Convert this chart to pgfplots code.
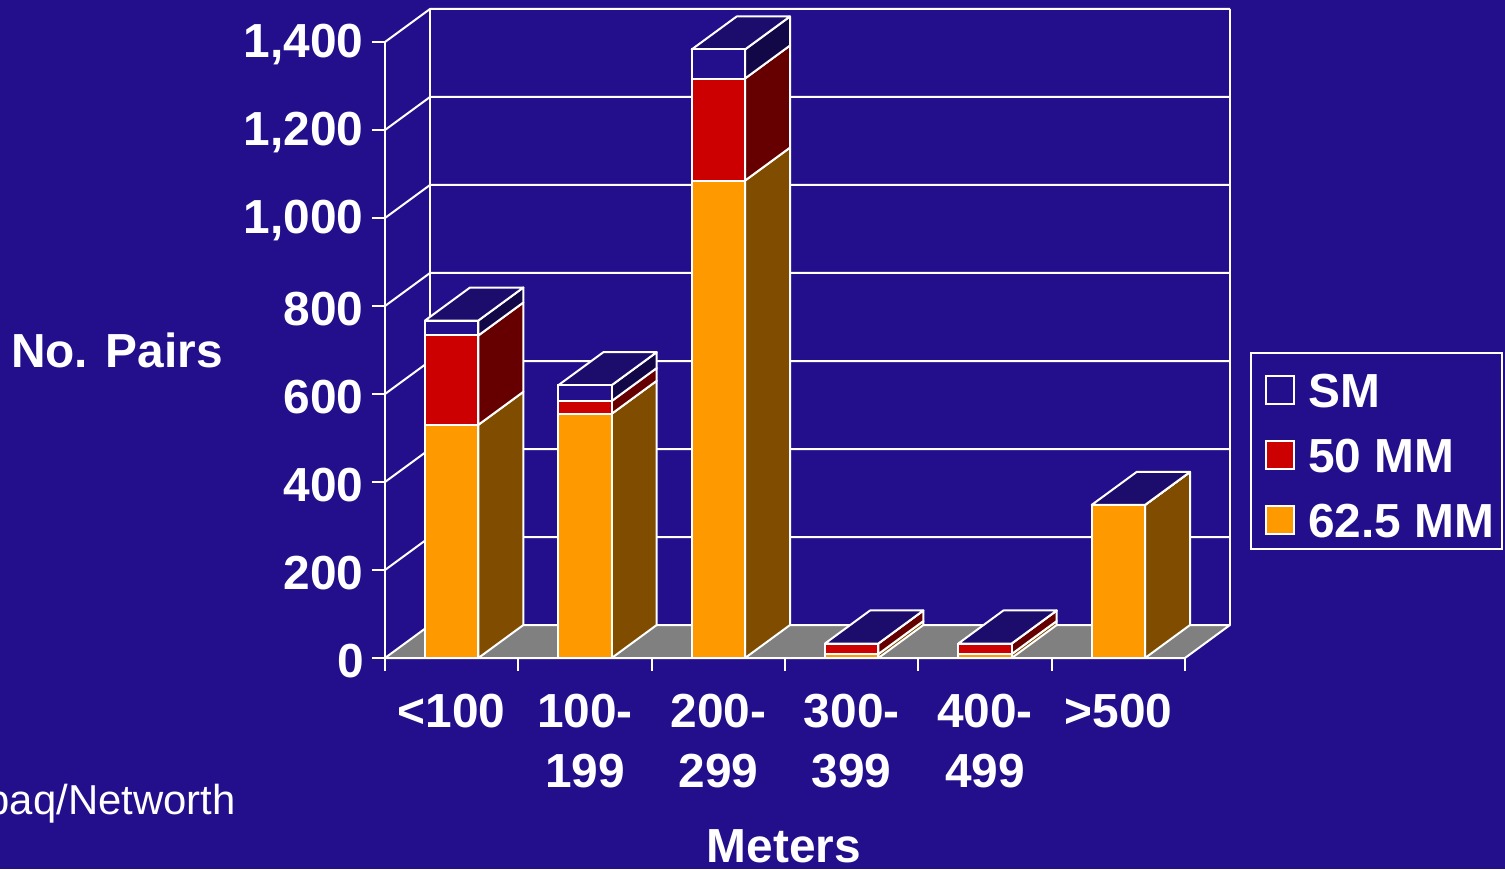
\documentclass[border=0pt]{standalone}
\usepackage{fontspec}
\setmainfont{Liberation Sans}
\usepackage{pgfplots}
\pgfplotsset{compat=1.18}
\usepackage{pgfplotstable}
\usetikzlibrary{backgrounds}

\definecolor{bg}{RGB}{35,15,140}
\definecolor{smtop}{RGB}{28,12,108}
\definecolor{smside}{RGB}{18,8,72}
\definecolor{orangef}{RGB}{255,153,0}
\definecolor{orangeside}{RGB}{128,77,0}
\definecolor{redf}{RGB}{204,0,0}
\definecolor{redside}{RGB}{102,0,0}
\definecolor{floorc}{RGB}{128,128,128}

\pgfplotstableread{
x orange red sm
0 530 203 34
1 555 29 36
2 1085 232 66
3 9 24 0
4 9 24 0
5 348 0 0
}\datatable

\def\DX{0.3375}
\def\DY{75}
% side and top faces of one column: #1 = x, #2 = 62.5 MM, #3 = 50 MM, #4 = SM
\newcommand{\colsides}[4]{%
  \pgfmathsetmacro\xa{#1+0.2}%
  \pgfmathsetmacro\xb{#1+0.2+\DX}%
  \pgfmathsetmacro\xc{#1-0.2}%
  \pgfmathsetmacro\xd{#1-0.2+\DX}%
  \pgfmathsetmacro\ya{#2}%
  \pgfmathsetmacro\yb{#2+#3}%
  \pgfmathsetmacro\yc{#2+#3+#4}%
  \pgfmathsetmacro\yoa{\DY}%
  \pgfmathsetmacro\yob{#2+\DY}%
  \pgfmathsetmacro\yoc{#2+#3+\DY}%
  \pgfmathsetmacro\yod{#2+#3+#4+\DY}%
  \edef\tmp{%
  \noexpand\addplot[fill=orangeside,draw=white,line width=1bp,line join=round,forget plot] coordinates {(\xa,0) (\xb,\yoa) (\xb,\yob) (\xa,\ya)} -- cycle;
  \noexpand\addplot[fill=redside,draw=white,line width=1bp,line join=round,forget plot] coordinates {(\xa,\ya) (\xb,\yob) (\xb,\yoc) (\xa,\yb)} -- cycle;
  \noexpand\addplot[fill=smside,draw=white,line width=1bp,line join=round,forget plot] coordinates {(\xa,\yb) (\xb,\yoc) (\xb,\yod) (\xa,\yc)} -- cycle;
  \noexpand\addplot[fill=smtop,draw=white,line width=1bp,line join=round,forget plot] coordinates {(\xc,\yc) (\xa,\yc) (\xb,\yod) (\xd,\yod)} -- cycle;
  }\tmp
}

\begin{document}
\begin{tikzpicture}
\begin{axis}[
  x=66.6667bp, y=0.22bp,
  xmin=-0.5, xmax=5.8375, ymin=0, ymax=1475,
  clip=false,
  axis x line=bottom, axis y line=left,
  axis line style={draw=none,-},
  tick align=outside,
  major tick length=6.5bp,
  tick style={white, line width=1bp},
  xtick={-0.5,0.5,1.5,2.5,3.5,4.5,5.5},
  x tick label as interval,
  xticklabels={{<100},{100-\\199},{200-\\299},{300-\\399},{400-\\499},{>500}},
  ytick={0,200,400,600,800,1000,1200,1400},
  /pgf/number format/assume math mode=true,
  /pgf/number format/1000 sep={,},
  ticklabel style={font=\bfseries\fontsize{24}{30}\selectfont, text=white},
  xticklabel style={align=center, inner sep=0pt, yshift=-11.5bp},
  yticklabel style={inner sep=0pt, xshift=-4bp, yshift=-1.5bp},
]
\colsides{0}{530}{203}{34}
\colsides{1}{555}{29}{36}
\colsides{2}{1085}{232}{66}
\colsides{3}{9}{24}{0}
\colsides{4}{9}{24}{0}
\colsides{5}{348}{0}{0}
% front faces
\addplot[ybar, bar width=0.4, bar shift=0pt, fill=bg, draw=white, line width=1bp, forget plot]
  table[x=x, y expr=\thisrow{orange}+\thisrow{red}+\thisrow{sm}] {\datatable};
\addplot[ybar, bar width=0.4, bar shift=0pt, fill=redf, draw=white, line width=1bp, forget plot]
  table[x=x, y expr=\thisrow{orange}+\thisrow{red}] {\datatable};
\addplot[ybar, bar width=0.4, bar shift=0pt, fill=orangef, draw=white, line width=1bp, forget plot]
  table[x=x, y=orange] {\datatable};
\end{axis}

% background, floor, walls (pixel coordinates)
\begin{scope}[on background layer, shift={(-192.5bp,329bp)}, x=0.5bp, y=-0.5bp]
  \fill[bg] (0,0) rectangle (1505,869);
  \filldraw[fill=floorc, draw=white, line width=1bp, line join=round]
    (385,658) -- (1185,658) -- (1230,625) -- (430,625) -- cycle;
  \begin{scope}[white, line width=1bp]
    \foreach \k in {1,...,7} {
      \draw (385,658-88*\k) -- (430,625-88*\k) -- (1230,625-88*\k);
    }
    \draw (430,625) -- (430,9);
    \draw (1230,625) -- (1230,9);
    \draw (385,658) -- (385,42);
  \end{scope}
\end{scope}

% texts and legend (pixel coordinates)
\begin{scope}[shift={(-192.5bp,329bp)}, x=0.5bp, y=-0.5bp]
  \node[text=white, font=\bfseries\fontsize{24}{28}\selectfont, anchor=center, inner sep=0pt] at (117,350) {No. Pairs};
  \node[text=white, font=\bfseries\fontsize{24}{28}\selectfont, anchor=center, inner sep=0pt] at (784,846) {Meters};
  \node[text=white, font=\fontsize{21}{25}\selectfont, anchor=base east, inner sep=0pt] at (236,814) {Compaq/Networth};
  \draw[white, line width=1bp] (1251,353) rectangle (1502,549);
  \filldraw[fill=bg, draw=white, line width=1bp] (1266,376) rectangle (1294,404);
  \filldraw[fill=redf, draw=white, line width=1bp] (1266,441) rectangle (1294,469);
  \filldraw[fill=orangef, draw=white, line width=1bp] (1266,506) rectangle (1294,534);
  \node[text=white, font=\bfseries\fontsize{24}{28}\selectfont, anchor=base west, inner sep=0pt] at (1308,407) {SM};
  \node[text=white, font=\bfseries\fontsize{24}{28}\selectfont, anchor=base west, inner sep=0pt] at (1308,472) {50 MM};
  \node[text=white, font=\bfseries\fontsize{24}{28}\selectfont, anchor=base west, inner sep=0pt] at (1308,537) {62.5 MM};
\end{scope}

\pgfresetboundingbox
\path[use as bounding box, shift={(-192.5bp,329bp)}, x=0.5bp, y=-0.5bp] (0,0) rectangle (1505,869);
\end{tikzpicture}
\end{document}
